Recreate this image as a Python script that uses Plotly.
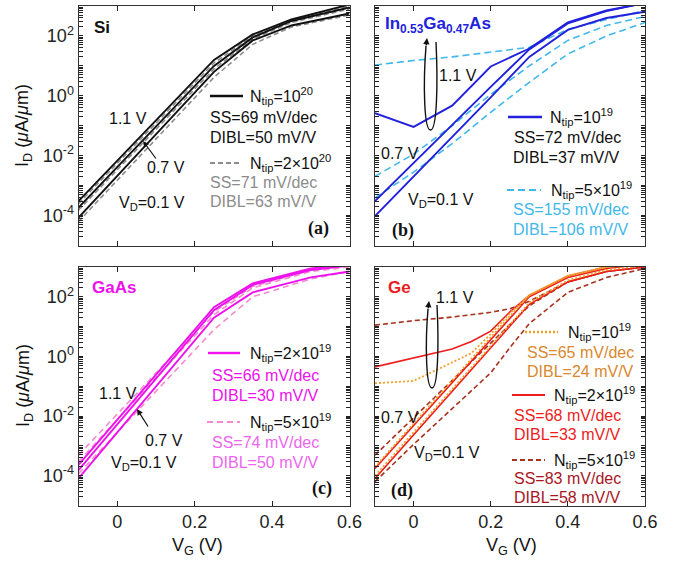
import plotly.graph_objects as go
from plotly.subplots import make_subplots

W, H = 674, 563

# ---------------- data (log10 of I_D in uA/um) ----------------
# (a) Si
si_vg = [-0.1, 0.25, 0.35, 0.45, 0.6]
si_n1_11 = [-3.52, 1.20, 2.05, 2.55, 3.05]
si_n1_07 = [-3.73, 1.00, 1.95, 2.50, 2.95]
si_n1_01 = [-4.07, 0.80, 1.85, 2.35, 2.75]
si_n2_11 = [-3.60, 1.10, 2.00, 2.50, 3.00]
si_n2_07 = [-3.82, 0.90, 1.90, 2.45, 2.90]
si_n2_01 = [-4.20, 0.62, 1.72, 2.30, 2.70]

# (b) In0.53Ga0.47As
ig_vg = [-0.1, 0.0, 0.1, 0.2, 0.3, 0.4, 0.5, 0.6]
ig_n1_11 = [-0.58, -1.04, -0.33, 0.98, 1.58, 2.45, 2.85, 3.10]
ig_n1_07 = [-3.52, -2.25, -0.95, 0.30, 1.55, 2.42, 2.83, 3.10]
ig_n1_01 = [-4.02, -2.70, -1.35, -0.05, 1.30, 2.20, 2.60, 2.81]
ig_n2_11 = [1.03, 1.18, 1.30, 1.45, 1.62, 2.22, 2.55, 2.85]
ig_n2_07 = [-2.69, -1.95, -1.00, 0.05, 1.00, 1.85, 2.35, 2.65]
ig_n2_01 = [-3.41, -2.55, -1.60, -0.55, 0.45, 1.40, 2.00, 2.45]

# (c) GaAs
ga_vg = [-0.1, 0.25, 0.35, 0.5, 0.6]
ga_n1_11 = [-3.64, 1.65, 2.45, 2.95, 3.10]
ga_n1_07 = [-3.81, 1.55, 2.40, 2.90, 3.05]
ga_n1_01 = [-4.09, 1.30, 2.15, 2.65, 2.85]
ga_n2_11 = [-3.31, 1.50, 2.35, 2.90, 3.05]
ga_n2_07 = [-3.53, 1.40, 2.30, 2.85, 3.00]
ga_n2_01 = [-3.93, 0.90, 2.00, 2.60, 2.85]

# (d) Ge
ge_vg = [-0.1, 0.0, 0.1, 0.15, 0.2, 0.25, 0.3, 0.4, 0.5, 0.6]
ge_n1_11 = [-0.90, -0.82, -0.20, 0.11, 0.75, 1.45, 2.05, 2.70, 3.00, 3.10]
ge_n1_07 = [-3.70, -2.25, -0.80, -0.08, 0.64, 1.36, 2.05, 2.70, 3.00, 3.10]
ge_n1_01 = [-4.00, -2.55, -1.10, -0.38, 0.35, 1.07, 1.80, 2.55, 2.90, 3.05]
ge_n2_11 = [-0.35, -0.05, 0.25, 0.50, 0.85, 1.50, 2.05, 2.70, 3.00, 3.10]
ge_n2_07 = [-3.76, -2.32, -0.88, -0.16, 0.56, 1.30, 2.00, 2.65, 2.95, 3.10]
ge_n2_01 = [-4.09, -2.63, -1.17, -0.44, 0.29, 1.02, 1.75, 2.50, 2.85, 3.00]
ge_n3_11 = [1.05, 1.20, 1.32, 1.40, 1.48, 1.60, 1.85, 2.50, 2.85, 3.00]
ge_n3_07 = [-3.31, -2.05, -0.80, -0.17, 0.45, 1.10, 1.70, 2.50, 2.85, 3.00]
ge_n3_01 = [-4.20, -2.95, -1.75, -1.15, -0.55, 0.30, 1.10, 2.15, 2.65, 2.95]

x_ticks = [0, 0.2, 0.4, 0.6]
x_ticktext = ["0", "0.2", "0.4", "0.6"]
y_major = {-4: "10<sup>-4</sup>", -2: "10<sup>-2</sup>", 0: "10<sup>0</sup>", 2: "10<sup>2</sup>"}
y_decades = list(range(-5, 3))

# tick positions: every k*10^n (MATLAB style minor ticks), labels only on majors
y_tickvals, y_ticktext = [], []
for n in y_decades:
    for k in range(1, 10):
        y_tickvals.append(k * 10.0 ** n)
        y_ticktext.append(y_major.get(n, "") if k == 1 else "")
y_tickvals.append(1e3)
y_ticktext.append("")

# ---------------- colors ----------------
BLACK = "#111111"
GRAY = "#8c8c8c"
BLUE = "#2222dd"
LBLUE = "#3fb8ec"
MAG = "#ee11ee"
PINK = "#f58ad0"
PINKT = "#ee66ee"
RED = "#ee1c1c"
ORANGE = "#f2a02a"
ORANGET = "#d9882e"
DRED = "#a8321e"
DREDT = "#a8161e"

FONT = "Liberation Sans, Arial, sans-serif"
SERIF = "Liberation Serif, Times New Roman, serif"
TS = 16  # annotation text size

fig = make_subplots(rows=2, cols=2)


def add(row, col, vg, logs, color, width, dash="solid"):
    fig.add_trace(go.Scatter(x=vg, y=[10 ** v for v in logs], mode="lines",
                             line=dict(color=color, width=width, dash=dash),
                             showlegend=False, hoverinfo="skip"), row=row, col=col)


# (a)
for c in (si_n2_11, si_n2_07, si_n2_01):
    add(1, 1, si_vg, c, GRAY, 1.6, "5px,3px")
for c in (si_n1_11, si_n1_07, si_n1_01):
    add(1, 1, si_vg, c, BLACK, 1.9)
# (b)
for c in (ig_n2_11, ig_n2_07, ig_n2_01):
    add(1, 2, ig_vg, c, LBLUE, 1.6, "7px,4px")
for c in (ig_n1_11, ig_n1_07, ig_n1_01):
    add(1, 2, ig_vg, c, BLUE, 1.9)
# (c)
for c in (ga_n2_11, ga_n2_07, ga_n2_01):
    add(2, 1, ga_vg, c, PINK, 1.6, "6px,4px")
for c in (ga_n1_11, ga_n1_07, ga_n1_01):
    add(2, 1, ga_vg, c, MAG, 1.9)
# (d)
for c in (ge_n3_11, ge_n3_07, ge_n3_01):
    add(2, 2, ge_vg, c, DRED, 1.6, "5px,3px")
for c in (ge_n2_11, ge_n2_07, ge_n2_01):
    add(2, 2, ge_vg, c, RED, 1.6)
for c in (ge_n1_11, ge_n1_07, ge_n1_01):
    add(2, 2, ge_vg, c, ORANGE, 1.8, "2px,2px")

# ---------------- axes ----------------
xdom = {1: [78.5 / W, 349.5 / W], 2: [375 / W, 645 / W]}
ydom = {1: [1 - 245.5 / H, 1 - 6 / H], 2: [1 - 505.5 / H, 1 - 267 / H]}

for row in (1, 2):
    for col in (1, 2):
        fig.update_xaxes(row=row, col=col, domain=xdom[col], range=[-0.1, 0.6],
                         tickmode="array", tickvals=x_ticks, ticktext=x_ticktext,
                         showticklabels=(row == 2), ticks="inside", ticklen=5,
                         tickcolor="#222", tickwidth=1, showline=True, linecolor="#333",
                         linewidth=1, mirror="ticks", showgrid=False, zeroline=False,
                         tickfont=dict(family=FONT, size=18, color="#222"),
                         automargin=False)
        fig.update_yaxes(row=row, col=col, domain=ydom[row], type="log", range=[-5, 3],
                         tickmode="array", tickvals=y_tickvals, ticktext=y_ticktext,
                         showticklabels=(col == 1), ticks="inside", ticklen=4,
                         tickcolor="#222", tickwidth=1, showline=True, linecolor="#333",
                         linewidth=1, mirror="ticks", showgrid=False, zeroline=False,
                         tickfont=dict(family=FONT, size=18, color="#222"),
                         automargin=False)

# ---------------- annotations / shapes ----------------
anns = []
shapes = []


def px(x):
    return x / W


def py(y):
    return 1 - y / H


def txt(x, y, text, color=BLACK, size=TS, anchor="center", family=FONT, angle=0):
    anns.append(dict(x=px(x), y=py(y), xref="paper", yref="paper", text=text,
                     showarrow=False, xanchor=anchor, yanchor="middle",
                     textangle=angle, font=dict(family=family, size=size, color=color)))


def sample(x0, x1, y, color, width, dash="solid"):
    shapes.append(dict(type="line", xref="paper", yref="paper", x0=px(x0), x1=px(x1),
                       y0=py(y), y1=py(y), line=dict(color=color, width=width, dash=dash)))


def arrow(hx, hy, tx, ty, width=1.2, head=2, size=1.0):
    anns.append(dict(x=px(hx), y=py(hy), xref="paper", yref="paper", text="",
                     showarrow=True, ax=tx - hx, ay=ty - hy, arrowhead=head,
                     arrowsize=size, arrowwidth=width, arrowcolor=BLACK))


def loop(xl, xr, ytop, ybot):
    xm = (xl + xr) / 2
    p = (f"M {px(xr)},{py(ytop + 4)} "
         f"C {px(xr + 2)},{py((ytop + ybot) / 2)} {px(xr + 1)},{py(ybot)} {px(xm)},{py(ybot)} "
         f"C {px(xl - 1)},{py(ybot)} {px(xl - 2)},{py((ytop + ybot) / 2)} {px(xl + 1)},{py(ytop + 8)}")
    shapes.append(dict(type="path", xref="paper", yref="paper", path=p,
                       line=dict(color=BLACK, width=1.4)))
    arrow(xl + 2, ytop, xl + 1, ytop + 9, width=1.4, head=2, size=0.9)


# axis titles
ytitle = "I<sub>D</sub> (<i>μ</i>A/<i>μ</i>m)"
txt(24, 126, ytitle, size=18, angle=-90)
txt(24, 386, ytitle, size=18, angle=-90)
txt(197, 546, "V<sub>G</sub> (V)", size=18)
txt(511, 546, "V<sub>G</sub> (V)", size=18)

# (a) Si
txt(102, 27, "<b>Si</b>", size=17)
txt(318, 228, "<b>(a)</b>", size=18, family=SERIF)
txt(128, 118, "1.1 V")
txt(166, 167, "0.7 V")
txt(152, 203, "V<sub>D</sub>=0.1 V")
arrow(143, 141, 157, 160)
sample(210, 243, 96, BLACK, 2.4)
txt(248, 96, "N<sub>tip</sub>=10<sup>20</sup>", anchor="left")
txt(263, 117, "SS=69 mV/dec")
txt(263, 137, "DIBL=50 mV/V")
sample(210, 241, 163, GRAY, 1.9, "5px,3px")
txt(248, 163, "N<sub>tip</sub>=2×10<sup>20</sup>", anchor="left")
txt(263, 182, "SS=71 mV/dec", color=GRAY)
txt(263, 202, "DIBL=63 mV/V", color=GRAY)

# (b) InGaAs
txt(383, 25, "<b>In<sub>0.53</sub>Ga<sub>0.47</sub>As</b>", color=BLUE, size=17, anchor="left")
txt(458, 75, "1.1 V")
txt(400, 153, "0.7 V")
txt(441, 200, "V<sub>D</sub>=0.1 V")
txt(403, 230, "<b>(b)</b>", size=18, family=SERIF)
loop(425, 436, 38, 130)
sample(508, 542, 117, BLUE, 2.4)
txt(548, 117, "N<sub>tip</sub>=10<sup>19</sup>", anchor="left")
txt(567, 137, "SS=72 mV/dec")
txt(566, 157, "DIBL=37 mV/V")
sample(507, 541, 190, LBLUE, 2.2, "7px,4px")
txt(549, 190, "N<sub>tip</sub>=5×10<sup>19</sup>", anchor="left")
txt(571, 209, "SS=155 mV/dec", color=LBLUE)
txt(571, 229, "DIBL=106 mV/V", color=LBLUE)

# (c) GaAs
txt(114, 287, "<b>GaAs</b>", color=MAG, size=17)
txt(118, 393, "1.1 V")
txt(164, 440, "0.7 V")
txt(144, 463, "V<sub>D</sub>=0.1 V")
arrow(137, 409, 149, 428)
txt(322, 488, "<b>(c)</b>", size=18, family=SERIF)
sample(208, 240, 353, MAG, 2.4)
txt(248, 353, "N<sub>tip</sub>=2×10<sup>19</sup>", anchor="left")
txt(265, 375, "SS=66 mV/dec", color=MAG)
txt(265, 395, "DIBL=30 mV/V", color=MAG)
sample(207, 240, 422, PINK, 2.0, "6px,4px")
txt(248, 422, "N<sub>tip</sub>=5×10<sup>19</sup>", anchor="left")
txt(265, 442, "SS=74 mV/dec", color=PINKT)
txt(265, 462, "DIBL=50 mV/V", color=PINKT)

# (d) Ge
txt(400, 287, "<b>Ge</b>", color=RED, size=17)
txt(455, 297, "1.1 V")
txt(400, 417, "0.7 V")
txt(447, 453, "V<sub>D</sub>=0.1 V")
txt(402, 490, "<b>(d)</b>", size=18, family=SERIF)
loop(427, 437, 301, 388)
sample(525, 558, 332, ORANGE, 2.4, "2px,2px")
txt(566, 332, "N<sub>tip</sub>=10<sup>19</sup>", anchor="left")
txt(580, 352, "SS=65 mV/dec", color=ORANGET)
txt(580, 371, "DIBL=24 mV/V", color=ORANGET)
sample(512, 545, 395, RED, 2.2)
txt(552, 395, "N<sub>tip</sub>=2×10<sup>19</sup>", anchor="left")
txt(567, 415, "SS=68 mV/dec", color=RED)
txt(567, 434, "DIBL=33 mV/V", color=RED)
sample(512, 545, 460, DRED, 2.2, "5px,3px")
txt(552, 460, "N<sub>tip</sub>=5×10<sup>19</sup>", anchor="left")
txt(567, 478, "SS=83 mV/dec", color=DREDT)
txt(567, 497, "DIBL=58 mV/V", color=DREDT)

fig.update_layout(width=W, height=H, margin=dict(l=0, r=0, t=0, b=0),
                  paper_bgcolor="white", plot_bgcolor="white",
                  annotations=anns, shapes=shapes, showlegend=False,
                  font=dict(family=FONT, size=TS, color=BLACK))

fig.write_html("out.html")
